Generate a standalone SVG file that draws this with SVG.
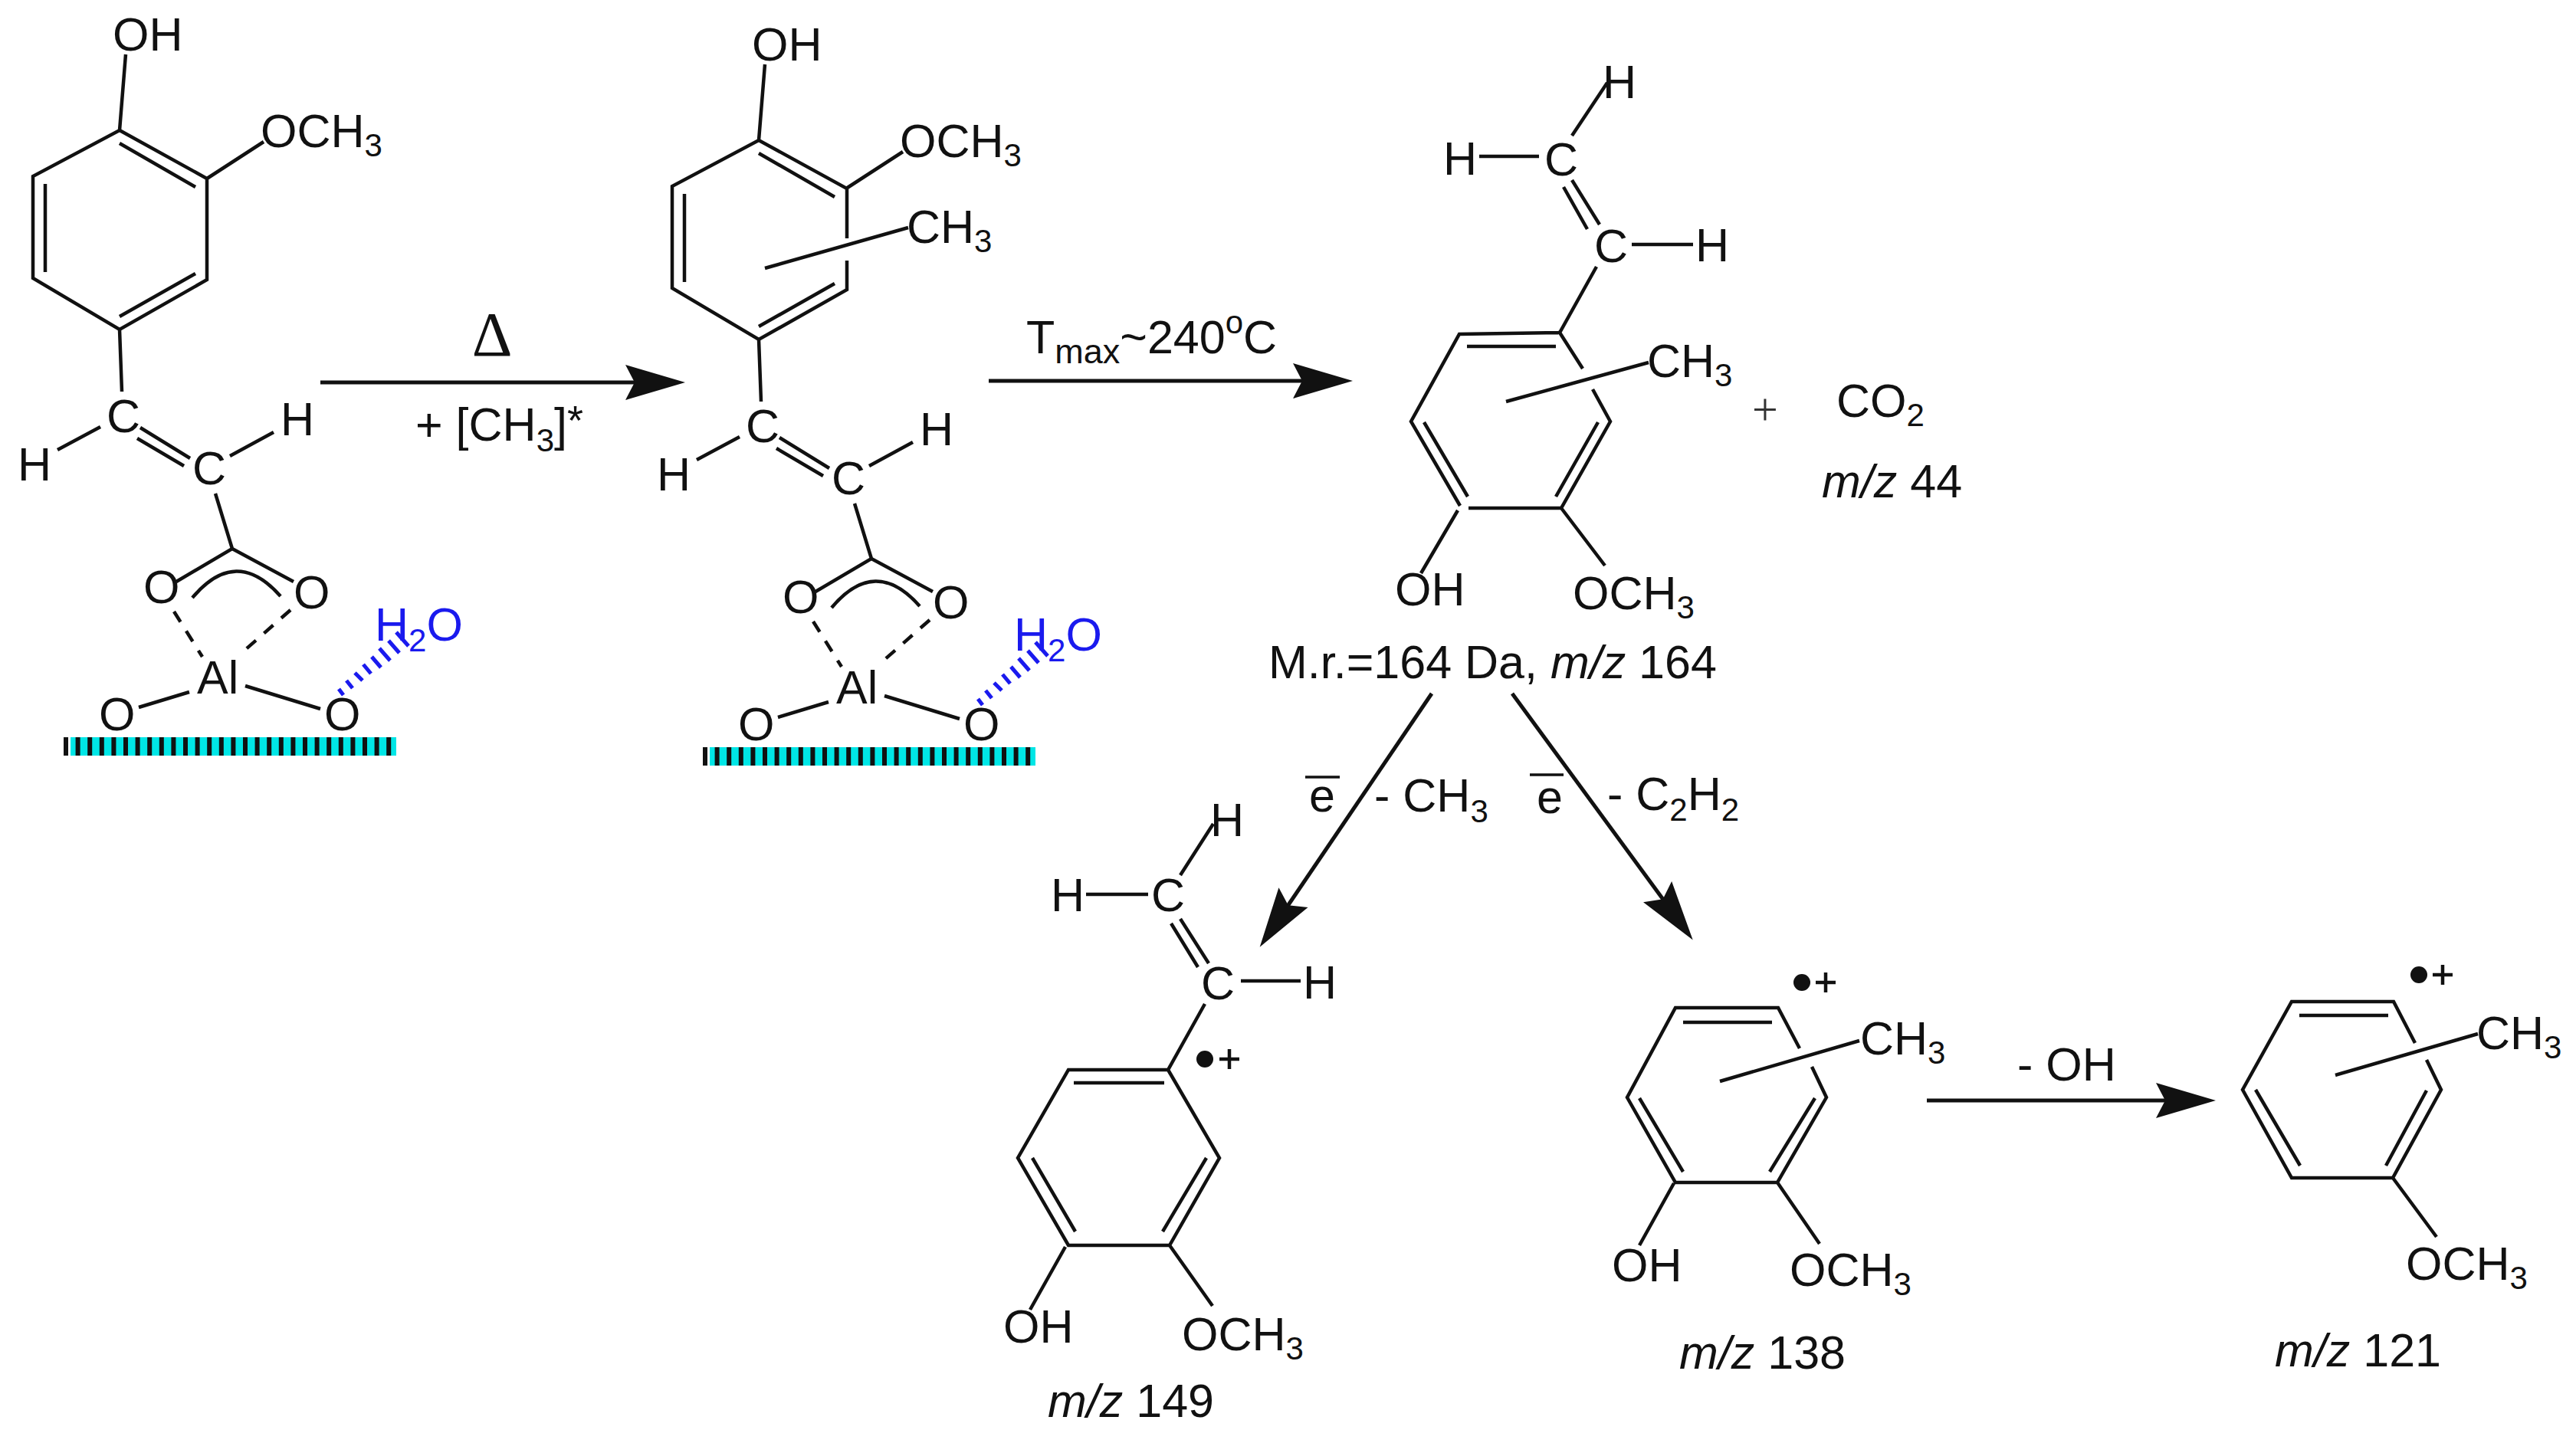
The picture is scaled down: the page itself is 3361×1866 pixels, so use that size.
<svg xmlns="http://www.w3.org/2000/svg" width="3361" height="1866" viewBox="0 0 3361 1866">
<style>
text{font-family:"Liberation Sans",Arial,sans-serif;font-size:61px;fill:#111}
.b{fill:#111;stroke:none}
tspan.s{font-size:42px}
.i{font-style:italic}
.bond{fill:none;stroke:#111;stroke-width:4.5;stroke-linecap:butt;stroke-linejoin:miter}
.dash{fill:none;stroke:#111;stroke-width:4.5;stroke-dasharray:16 14}
.hash{fill:none;stroke:#1a1aee;stroke-width:5}
.blue{fill:#1a1aee}
.arrow{fill:none;stroke:#111;stroke-width:5;marker-end:url(#head)}
.plus{fill:none;stroke:#111;stroke-width:4.5}
</style>
<defs>
<marker id="head" markerUnits="userSpaceOnUse" markerWidth="84" markerHeight="50" viewBox="0 -25 84 50" refX="65" refY="0" orient="auto">
<path d="M0 -23L78 0L0 23L12 0Z" fill="#111"/>
</marker>
</defs>
<rect width="3361" height="1866" fill="#fff"/>

<g id="connectors">
<line class="arrow" x1="418" y1="499" x2="881" y2="499"/>
<line class="arrow" x1="1290" y1="497" x2="1752" y2="497"/>
<line class="arrow" x1="1868" y1="905" x2="1651" y2="1225"/>
<line class="arrow" x1="1973" y1="905" x2="2201" y2="1216"/>
<line class="arrow" x1="2514" y1="1436" x2="2878" y2="1436"/>
</g>

<g id="labels">
<text x="642" y="464" text-anchor="middle" style="font-family:'Liberation Serif',serif;font-size:82px">Δ</text>
<text x="542" y="575">+ [CH<tspan class="s" dy="14">3</tspan><tspan dy="-14">]</tspan><tspan style="font-size:54px" dy="-8">*</tspan></text>
<text x="1339" y="461">T<tspan style="font-size:45px" dy="13">max</tspan><tspan dy="-13">~240</tspan><tspan class="s" dy="-26">o</tspan><tspan dy="26">C</tspan></text>
<path class="bond" style="stroke-width:3.5" d="M1703 1014H1748M1996 1011H2040"/>
<text x="1708" y="1059">e</text>
<text x="1793" y="1059">- CH<tspan class="s" dy="14">3</tspan></text>
<text x="2005" y="1061">e</text>
<text x="2097" y="1057">- C<tspan class="s" dy="14">2</tspan><tspan dy="-14">H</tspan><tspan class="s" dy="14">2</tspan></text>
<text x="2632" y="1410">- OH</text>
</g>

<g id="mol1">
<path class="bond" d="M156 170L270 233V365L156 430L43 363V230ZM156 187L255 244M156 413L255 357M59 240V355M156 170L164 71M270 233L344 185M156 430L159 511M75 587L131 557M300 595L357 564M183 558L248 598M179 572L240 608M281 644L303 716L230 759M303 716L383 759M251 780Q308 712 366 778M181 923L247 903M320 895L418 925"/>
<path class="dash" d="M227 798L264 857M379 796L313 854"/>
<path class="hash" d="M442 899L448 907M452 888L460 898M463 878L473 888M474 867L484 879M485 857L497 871M495 846L509 862M507 836L521 852M517 825L533 843"/>
<rect x="92" y="962" width="425" height="24" fill="#00e6e6"/>
<line x1="83" y1="974" x2="517" y2="974" stroke="#111" stroke-width="24" stroke-dasharray="6 9.6"/>
<text x="147" y="66">OH</text>
<text x="340" y="192">OCH<tspan class="s" dy="12">3</tspan></text>
<text x="139" y="564">C</text>
<text x="251" y="632">C</text>
<text x="23" y="627">H</text>
<text x="366" y="568">H</text>
<text x="187" y="787">O</text>
<text x="383" y="794">O</text>
<text x="257" y="905">Al</text>
<text x="129" y="953">O</text>
<text x="423" y="953">O</text>
<text x="489" y="836" class="blue">H<tspan class="s blue" dy="14">2</tspan><tspan class="blue" dy="-14">O</tspan></text>
</g>

<g id="mol2" transform="translate(834 13)">
<path class="bond" d="M271 298V233L156 170L43 230V363L156 430L271 365V327M156 187L255 244M156 413L255 357M59 240V355M156 170L164 71M270 233L344 185M156 430L159 511M75 587L131 557M300 595L357 564M183 558L248 598M179 572L240 608M281 644L303 716L230 759M303 716L383 759M251 780Q308 712 366 778M181 923L247 903M320 895L418 925M164 337L351 284"/>
<path class="dash" d="M227 798L264 857M379 796L313 854"/>
<path class="hash" d="M442 899L448 907M452 888L460 898M463 878L473 888M474 867L484 879M485 857L497 871M495 846L509 862M507 836L521 852M517 825L533 843"/>
<rect x="92" y="962" width="425" height="24" fill="#00e6e6"/>
<line x1="83" y1="974" x2="517" y2="974" stroke="#111" stroke-width="24" stroke-dasharray="6 9.6"/>
<text x="147" y="66">OH</text>
<text x="340" y="192">OCH<tspan class="s" dy="12">3</tspan></text>
<text x="349" y="304">CH<tspan class="s" dy="12">3</tspan></text>
<text x="139" y="564">C</text>
<text x="251" y="632">C</text>
<text x="23" y="627">H</text>
<text x="366" y="568">H</text>
<text x="187" y="787">O</text>
<text x="383" y="794">O</text>
<text x="257" y="905">Al</text>
<text x="129" y="953">O</text>
<text x="423" y="953">O</text>
<text x="489" y="836" class="blue">H<tspan class="s blue" dy="14">2</tspan><tspan class="blue" dy="-14">O</tspan></text>
</g>

<g id="mol3">
<path class="bond" d="M2051 177L2097 108M1930 204H2008M2051 235L2087 293M2040 244L2071 299M2129 319H2209M2083 348L2035 434L1904 436L1841 550L1905 660M2035 434L2065 481M2078 508L2101 550L2037 663L1916 663M1914 452H2030M1858 551L1915 648M2085 551L2030 648M1902 666L1854 748M2037 663L2094 738M1965 524L2151 473"/>
<text x="2091" y="128">H</text>
<text x="2015" y="229">C</text>
<text x="1883" y="228">H</text>
<text x="2080" y="342">C</text>
<text x="2212" y="341">H</text>
<text x="2149" y="492">CH<tspan class="s" dy="12">3</tspan></text>
<text x="1820" y="790">OH</text>
<text x="2052" y="795">OCH<tspan class="s" dy="12">3</tspan></text>
<text x="1655" y="885">M.r.=164 Da, <tspan class="i">m/z</tspan> 164</text>
</g>

<g id="co2">
<text x="2286" y="554" style="font-family:'Liberation Serif',serif;font-size:60px;fill:#333">+</text>
<text x="2396" y="544">CO<tspan class="s" dy="12">2</tspan></text>
<text x="2377" y="649"><tspan class="i">m/z</tspan> 44</text>
</g>

<g id="mol4">
<path class="bond" d="M1540 1142L1583 1075M1417 1167H1498M1540 1199L1577 1257M1528 1205L1563 1262M1619 1280H1697M1572 1310L1524 1396L1394 1396L1328 1511L1394 1625L1526 1625L1591 1511L1524 1396M1401 1413H1519M1347 1511L1403 1607M1574 1511L1517 1607M1390 1627L1344 1709M1526 1625L1582 1704"/>
<circle class="b" cx="1572" cy="1382" r="11"/>
<path class="plus" d="M1591 1382H1617M1604 1369V1395"/>
<text x="1579" y="1091">H</text>
<text x="1502" y="1189">C</text>
<text x="1371" y="1189">H</text>
<text x="1567" y="1304">C</text>
<text x="1700" y="1303">H</text>
<text x="1309" y="1752">OH</text>
<text x="1542" y="1762">OCH<tspan class="s" dy="12">3</tspan></text>
<text x="1367" y="1849"><tspan class="i">m/z</tspan> 149</text>
</g>

<g id="mol5">
<path class="bond" d="M2348 1368L2320 1315H2186L2123 1432L2186 1543H2319L2383 1432L2364 1392M2196 1334H2312M2139 1433L2196 1529M2368 1433L2309 1529M2184 1544L2139 1625M2319 1543L2374 1623M2244 1411L2426 1358"/>
<circle class="b" cx="2351" cy="1282" r="11"/>
<path class="plus" d="M2369 1282H2395M2382 1269V1295"/>
<text x="2427" y="1376">CH<tspan class="s" dy="12">3</tspan></text>
<text x="2103" y="1672">OH</text>
<text x="2335" y="1678">OCH<tspan class="s" dy="12">3</tspan></text>
<text x="2191" y="1786"><tspan class="i">m/z</tspan> 138</text>
</g>

<g id="mol6">
<path class="bond" d="M3151 1361L3123 1307H2990L2926 1422L2990 1537H3122L3185 1422L3166 1383M3000 1325H3116M2943 1422L3001 1521M3166 1423L3113 1521M3122 1537L3179 1614M3047 1403L3233 1349"/>
<circle class="b" cx="3156" cy="1272" r="11"/>
<path class="plus" d="M3174 1272H3200M3187 1259V1285"/>
<text x="3231" y="1369">CH<tspan class="s" dy="12">3</tspan></text>
<text x="3139" y="1670">OCH<tspan class="s" dy="12">3</tspan></text>
<text x="2968" y="1783"><tspan class="i">m/z</tspan> 121</text>
</g>
</svg>
